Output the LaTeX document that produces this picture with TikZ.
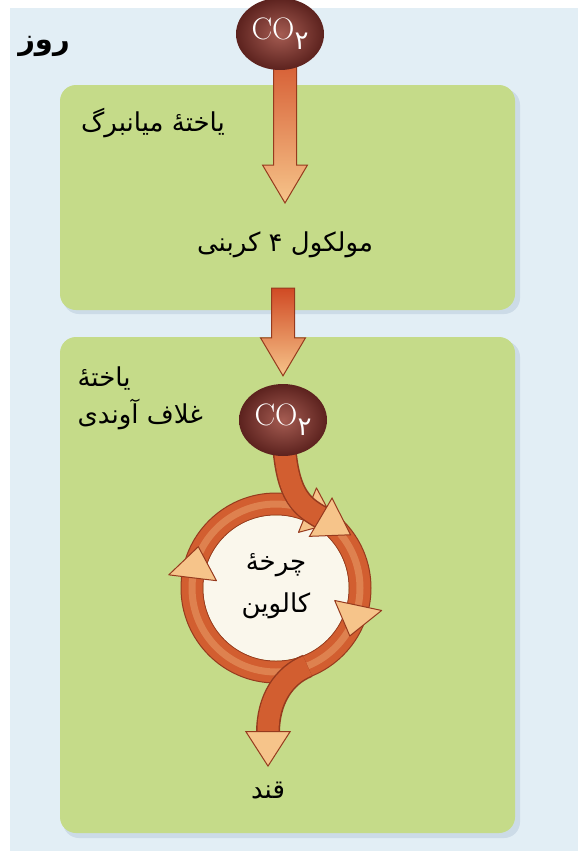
\documentclass[tikz,border=0pt]{standalone}
\usepackage{fontspec}
\newfontfamily\arabicfont[Script=Arabic]{DejaVu Sans}
\TeXXeTstate=1
\usetikzlibrary{calc,arrows.meta,shapes.geometric}

\definecolor{panelblue}{RGB}{226,238,245}
\definecolor{boxgreen}{RGB}{197,219,137}
\definecolor{boxshadow}{RGB}{204,219,231}
\definecolor{arrowedge}{RGB}{150,58,30}
\definecolor{arrowdark}{RGB}{208,74,36}
\definecolor{arrowmid}{RGB}{210,94,48}
\definecolor{arrowlight}{RGB}{246,196,138}
\definecolor{co2dark}{RGB}{92,34,30}
\definecolor{co2light}{RGB}{165,92,82}
\definecolor{cyclewhite}{RGB}{250,247,236}

\pgfdeclarelayer{bg}
\pgfdeclarelayer{flow}
\pgfsetlayers{bg,flow,main}

\tikzset{
  cellbox/.style={fill=boxgreen, rounded corners=16pt},
  cellshadow/.style={fill=boxshadow, rounded corners=16pt},
  co2ball/.style={ellipse, minimum width=88pt, minimum height=72pt, inner sep=0pt,
    inner color=co2light, outer color=co2dark, text=white,
    font=\fontsize{31}{31}\selectfont},
  fa/.style={font=\arabicfont\fontsize{26}{37}\selectfont, text=black},
  bendarrow/.style={line width=21pt, draw=arrowmid,
    preaction={draw=arrowedge, line width=24pt, shorten >=34pt, arrows=-},
    -{Triangle[length=36pt, width=46pt, fill=arrowlight, color=arrowedge, line width=1pt]}},
  headfill/.style={fill=arrowlight, draw=arrowedge, line width=1pt, line join=round}
}

\newcommand{\fatdown}[2]{%
  \path (#1) coordinate (fd-s) (#2) coordinate (fd-t);
  \path (fd-t |- fd-s) coordinate (fd-s);
  \shadedraw[top color=arrowdark, bottom color=arrowlight, draw=arrowedge, line width=1pt]
    ($(fd-s)+(-11.5,0)$) -- ($(fd-t)+(-11.5,-38)$) -- ($(fd-t)+(-22.5,-38)$) -- (fd-t)
    -- ($(fd-t)+(22.5,-38)$) -- ($(fd-t)+(11.5,-38)$) -- ($(fd-s)+(11.5,0)$) -- cycle;}

\newcommand{\cotwo}{CO\raisebox{-10pt}{\arabicfont\fontsize{26}{26}\selectfont ۲}}

\begin{document}
\begin{tikzpicture}[x=1pt,y=-1pt]
\useasboundingbox (0,0) rectangle (587,851);

\begin{pgfonlayer}{bg}
  \fill[white] (0,0) rectangle (587,851);
  \fill[panelblue] (10,8) rectangle (578,851);
  \fill[cellshadow] (63,89) rectangle (520,314);
  \fill[cellbox] (60,85) rectangle (515,310);
  \fill[cellshadow] (63,341) rectangle (520,838);
  \fill[cellbox] (60,337) rectangle (515,833);
\end{pgfonlayer}

\node[fa, font=\arabicfont\bfseries\fontsize{29}{29}\selectfont] (day) at (44,46) {\beginR روز\endR};
\node[co2ball] (co2a) at (280,34) {\cotwo};
\node[fa] (meso) at (153,123) {\beginR یاختهٔ میانبرگ\endR};
\node[fa] (c4) at (285,245) {\beginR مولکول ۴ کربنی\endR};
\node[fa, anchor=west, align=left] (sheath) at (74,398) {\beginR یاختهٔ\endR\\\beginR غلاف آوندی\endR};
\node[co2ball] (co2b) at (283,420) {\cotwo};
\coordinate (C) at (276,588);
\node[fa, align=center, font=\arabicfont\fontsize{26}{42}\selectfont] (calvin) at (276,586) {\beginR چرخهٔ\endR\\\beginR کالوین\endR};
\node[fa] (sugar) at (268,790) {\beginR قند\endR};

\begin{pgfonlayer}{flow}
  \fatdown{co2a.center}{$(c4.center)+(0,-42)$}
  \fatdown{$(c4.center)+(0,43)$}{$(co2b.north)+(0,-8)$}

  \fill[arrowmid, even odd rule] (C) circle[radius=95] (C) circle[radius=73];
  \draw[arrowlight, line width=7pt, opacity=0.35] (C) circle[radius=84];
  \draw[arrowedge, line width=1pt] (C) circle[radius=95] (C) circle[radius=73];
  \fill[cyclewhite] (C) circle[radius=72.5];
  \foreach \b/\t in {187/208, 12/33, 292/312}
    \filldraw[headfill] ($(C)+(\b:108)$) -- ($(C)+(\t:88)$) -- ($(C)+(\b:60)$) -- cycle;

  \draw[bendarrow] (co2b.center) .. controls (284,495) and (300,505) .. ($(C)+(325:92)$);
  \draw[bendarrow] ($(C)+(68:84)$) .. controls +(158:26) and (268,700) .. ($(sugar.center)+(0,-23)$);
\end{pgfonlayer}
\end{tikzpicture}
\end{document}
